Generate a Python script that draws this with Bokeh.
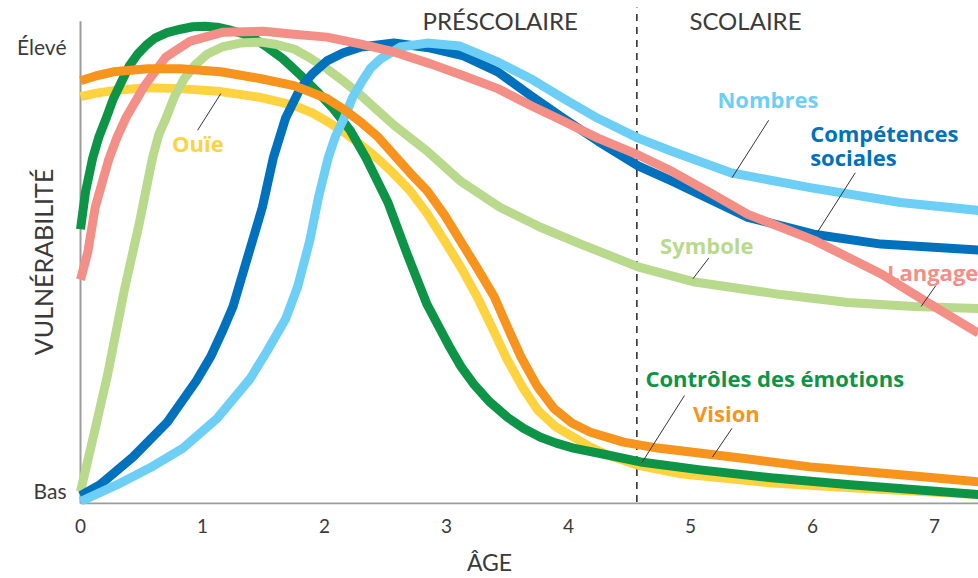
from bokeh.plotting import figure
from bokeh.models import Range1d, Label, FixedTicker
from bokeh.embed import file_html
from bokeh.resources import INLINE
import math

# ---------------- data (age in years, vulnerability 0-100) ----------------
ctrl_x = [0, 0.04, 0.10, 0.15, 0.21, 0.27, 0.34, 0.40, 0.47, 0.54, 0.61, 0.71, 0.82, 0.92, 1.02, 1.12,
          1.23, 1.33, 1.43, 1.54, 1.66, 1.80, 1.94, 2.07, 2.21, 2.34, 2.52, 2.68, 2.84, 3.03, 3.12,
          3.22, 3.35, 3.50, 3.63, 3.77, 3.90, 4.04, 4.32, 4.59, 5.08, 5.66, 6.31, 7.36]
ctrl_y = [55.4, 62.8, 69.8, 74.0, 77.8, 81.8, 85.4, 88.4, 90.8, 92.6, 94.0, 95.1, 95.8, 96.3, 96.4, 96.2,
          95.6, 94.9, 93.8, 92.0, 89.8, 86.6, 83.2, 79.8, 75.4, 69.8, 60.8, 50.2, 40.2, 31.4, 27.6,
          24.2, 20.6, 17.4, 15.2, 13.4, 12.2, 11.2, 9.8, 8.4, 6.8, 5.2, 3.8, 1.8]

ouie_x = [0, 0.13, 0.27, 0.55, 0.82, 1.15, 1.48, 1.75, 1.90, 2.02, 2.16, 2.30, 2.43, 2.56, 2.70, 2.84,
          2.98, 3.12, 3.25, 3.38, 3.49, 3.62, 3.75, 3.89, 4.04, 4.18, 4.32, 4.59, 4.92, 5.64, 6.31, 7.36]
ouie_y = [82.2, 82.9, 83.4, 84.0, 83.8, 83.2, 82.0, 80.4, 78.9, 77.2, 75.0, 72.4, 69.8, 66.8, 63.2, 58.6,
          53.2, 47.6, 41.8, 35.2, 29.4, 23.6, 18.8, 15.6, 13.4, 11.4, 9.8, 7.6, 6.0, 4.2, 3.2, 1.8]

vision_x = [0, 0.13, 0.27, 0.55, 0.82, 1.15, 1.48, 1.75, 2.02, 2.16, 2.30, 2.44, 2.57, 2.70, 2.84, 2.98,
            3.11, 3.25, 3.39, 3.50, 3.61, 3.74, 3.88, 4.03, 4.18, 4.45, 4.73, 5.41, 5.98, 6.72, 7.36]
vision_y = [85.4, 86.4, 87.2, 87.8, 87.8, 87.2, 85.8, 84.4, 81.8, 79.6, 77.0, 74.0, 70.4, 66.8, 63.2, 58.4,
            53.2, 47.6, 41.8, 35.6, 29.6, 23.8, 19.2, 16.2, 14.4, 12.4, 11.2, 9.2, 7.4, 5.8, 4.4]

symbole_x = [0, 0.11, 0.22, 0.36, 0.48, 0.59, 0.64, 0.70, 0.77, 0.85, 0.94, 1.04, 1.17, 1.31, 1.48, 1.61,
             1.75, 1.88, 2.02, 2.16, 2.30, 2.57, 2.84, 3.11, 3.44, 3.77, 4.10, 4.57, 5.02, 5.74, 6.29,
             6.83, 7.36]
symbole_y = [2.4, 14.0, 25.8, 43.2, 56.4, 69.8, 74.4, 77.8, 82.2, 85.8, 88.6, 90.8, 92.3, 93.0, 93.2, 92.7,
             91.8, 90.0, 87.8, 85.2, 82.4, 76.4, 71.2, 65.2, 59.8, 55.8, 52.4, 47.8, 44.8, 42.2, 40.6,
             39.8, 39.4]

langage_x = [0, 0.06, 0.12, 0.23, 0.30, 0.37, 0.52, 0.70, 0.90, 1.17, 1.50, 1.75, 2.02, 2.30, 2.57, 2.87,
             3.14, 3.42, 3.69, 3.96, 4.24, 4.57, 4.84, 5.16, 5.47, 6.01, 6.56, 6.89, 7.36]
langage_y = [45.2, 50.8, 59.8, 69.4, 74.0, 77.8, 84.2, 90.2, 93.4, 95.2, 95.4, 94.8, 94.2, 92.8, 91.2, 88.8,
             86.4, 83.8, 80.4, 77.2, 73.8, 70.4, 67.2, 62.8, 58.4, 53.2, 46.4, 41.4, 34.4]

social_x = [0, 0.16, 0.43, 0.71, 0.95, 1.07, 1.16, 1.25, 1.37, 1.49, 1.58, 1.68, 1.80, 1.90, 2.02, 2.15,
            2.30, 2.57, 2.87, 3.14, 3.42, 3.69, 3.96, 4.24, 4.57, 4.84, 5.47, 6.01, 6.56, 7.36]
social_y = [1.6, 3.8, 9.4, 16.4, 24.8, 29.8, 34.6, 39.8, 49.8, 59.8, 69.8, 77.8, 83.8, 86.8, 89.4, 91.0,
            92.2, 93.0, 92.0, 90.4, 87.2, 82.4, 77.8, 73.2, 68.2, 65.2, 57.8, 54.4, 52.4, 51.2]

nombres_x = [0, 0.30, 0.57, 0.84, 1.12, 1.39, 1.52, 1.68, 1.78, 1.88, 1.95, 2.03, 2.09, 2.16, 2.23, 2.31,
             2.38, 2.46, 2.62, 2.84, 3.11, 3.42, 3.69, 3.96, 4.24, 4.57, 4.84, 5.33, 5.98, 6.72, 7.36]
nombres_y = [0.4, 3.8, 7.2, 11.2, 17.2, 25.2, 30.4, 37.2, 43.8, 53.2, 61.8, 69.8, 74.2, 77.8, 82.0, 85.4,
             88.0, 89.8, 92.2, 93.0, 92.4, 89.2, 85.8, 81.8, 77.8, 73.8, 71.2, 66.8, 63.8, 60.8, 59.2]

age_ticks = [0, 1, 2, 3, 4, 5, 6, 7]
level_y = [2.6, 92.4]
level_labels = ["Bas", "Élevé"]
school_start = 4.56
x_end = 7.36
y_axis_top = 97.4

# series labels and their leader lines
lab_text = ["Ouïe", "Nombres", "Compétences", "sociales", "Symbole", "Langage",
            "Contrôles des émotions", "Vision"]
lab_x = [0.75, 5.22, 5.98, 5.98, 4.75, 6.61, 4.63, 5.02]
lab_y = [72.8, 81.8, 74.8, 70.0, 52.2, 46.8, 25.4, 18.2]
lead_x0 = [0.96, 5.64, 6.35, 5.15, 7.01, 4.95, 5.34]
lead_y0 = [75.4, 77.4, 66.8, 49.6, 44.0, 21.8, 15.2]
lead_x1 = [1.15, 5.34, 6.04, 5.02, 6.89, 4.60, 5.18]
lead_y1 = [82.8, 65.8, 54.8, 45.4, 39.8, 8.2, 9.4]

# ---------------- styling ----------------
C_YELLOW = "#FFD33F"
C_ORANGE = "#F7941E"
C_GREEN = "#0E9447"
C_LGREEN = "#B9DA8C"
C_PINK = "#F48F87"
C_LBLUE = "#6DCFF6"
C_BLUE = "#0071BC"
lab_color = [C_YELLOW, C_LBLUE, C_BLUE, C_BLUE, C_LGREEN, C_PINK, C_GREEN, C_ORANGE]

AX_FONT = "Lato"
ANN_FONT = "Open Sans"
TXT = "#3a3a3a"
AXIS_GRAY = "#9c9c9c"
LW = 9

# frame covers the whole width; the area left of age 0 holds the level labels
p = figure(width=978, height=578, output_backend="svg", toolbar_location=None,
           x_range=Range1d(-80 / 122, x_end), y_range=Range1d(-0.2, 101.6),
           min_border_left=0, min_border_right=0, min_border_top=0, min_border_bottom=69)
p.outline_line_color = None
p.xgrid.visible = False
p.ygrid.visible = False
p.yaxis.visible = False
p.background_fill_color = "white"
p.border_fill_color = "white"

# bottom axis: tick labels and title
xa = p.xaxis[0]
xa.ticker = FixedTicker(ticks=age_ticks)
xa.axis_line_color = None
xa.major_tick_line_color = None
xa.minor_tick_line_color = None
xa.major_label_standoff = 8
xa.major_label_text_font = AX_FONT
xa.major_label_text_font_size = "19px"
xa.major_label_text_color = TXT
xa.axis_label = "ÂGE"
xa.axis_label_text_font = AX_FONT
xa.axis_label_text_font_style = "normal"
xa.axis_label_text_font_size = "23px"
xa.axis_label_text_color = TXT
xa.axis_label_standoff = 12

# axis lines
p.segment(x0=[0, 0], y0=[0, 0], x1=[0, x_end], y1=[y_axis_top, 0], line_color=AXIS_GRAY, line_width=2)

# level labels (Bas / Élevé) and vertical title
for t, y in zip(level_labels, level_y):
    p.add_layout(Label(x=-0.115, y=y, text=t, text_color=TXT, text_font=AX_FONT,
                       text_font_size="21px", text_align="right", text_baseline="middle"))
p.add_layout(Label(x=-0.311, y=48.8, text="VULNÉRABILITÉ", angle=math.pi / 2, text_color=TXT,
                   text_font=AX_FONT, text_font_size="25px",
                   text_align="center", text_baseline="middle"))

# school start divider
p.segment(x0=[school_start], y0=[0.3], x1=[school_start], y1=[100.2],
          line_color="#222222", line_width=1.5, line_dash="7 6")

# curves (butt caps so they stop at the axis)
series = [
    (ouie_x, ouie_y, C_YELLOW),
    (ctrl_x, ctrl_y, C_GREEN),
    (symbole_x, symbole_y, C_LGREEN),
    (social_x, social_y, C_BLUE),
    (nombres_x, nombres_y, C_LBLUE),
    (langage_x, langage_y, C_PINK),
    (vision_x, vision_y, C_ORANGE),
]
for xs, ys, c in series:
    p.line(xs, ys, line_color=c, line_width=LW, line_join="round", line_cap="butt")

# leader lines
p.segment(x0=lead_x0, y0=lead_y0, x1=lead_x1, y1=lead_y1, line_color="#333333", line_width=1)

# series labels
for t, x, y, c in zip(lab_text, lab_x, lab_y, lab_color):
    p.add_layout(Label(x=x, y=y, text=t, text_color=c, text_font=ANN_FONT,
                       text_font_style="bold", text_font_size="22px",
                       text_align="left", text_baseline="middle"))

# period titles
for t, x in [("PRÉSCOLAIRE", 3.44), ("SCOLAIRE", 5.45)]:
    p.add_layout(Label(x=x, y=97.6, text=t, text_color=TXT, text_font=AX_FONT,
                       text_font_size="24px", text_align="center", text_baseline="middle"))

open("out.html", "w").write(file_html(p, INLINE))
